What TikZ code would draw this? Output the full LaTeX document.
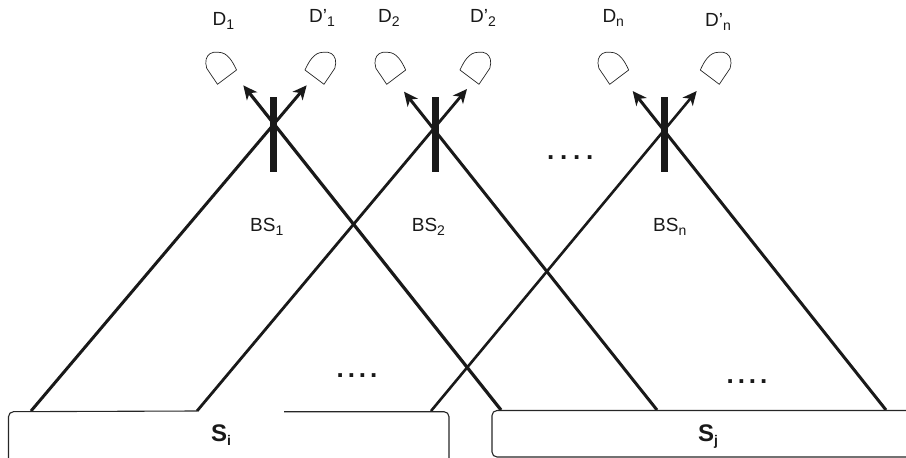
\documentclass[tikz,border=0pt]{standalone}
\usepackage{fontspec}
\setmainfont{Liberation Sans}
\usetikzlibrary{arrows.meta}

\newcommand{\lowsub}[1]{\raisebox{-4pt}{\fontsize{14}{14}\selectfont #1}}

\begin{document}
\begin{tikzpicture}[
        x = 1pt, y = -1pt,
        line join=round,
        beam/.style = {line width=#1, black!90, -{Stealth[length=14pt,width=13pt,inset=4pt]}},
        splitter/.style = {line width=7pt, black!90},
        source/.style = {line width=1.1pt, black!85, rounded corners=5pt},
        lab/.style = {anchor=base west, inner sep=0pt, font=\fontsize{19}{22}\selectfont, text=black!90},
        srclab/.style = {anchor=base west, inner sep=0pt, font=\fontsize{24}{26}\selectfont\bfseries, text=black!90},
        gap/.style = {anchor=base west, inner sep=0pt, font=\fontsize{26}{26}\selectfont\bfseries\addfontfeature{LetterSpace=#1}, text=black!90},
        pics/detector/.style = {code={
            \draw[line width=0.7pt, black!85] (0,0) -- (19,-14.3)
                .. controls (15,-23) and (10,-32) .. (1,-32) -- (-4,-32)
                .. controls (-9,-31) and (-12,-27) .. (-11.7,-21) -- (-10.8,-16) -- cycle;
        }}
    ]

    \useasboundingbox (0,0) rectangle (906,458);

    % splitters
    \coordinate (bs1a) at (273.7,97);
    \coordinate (bs1b) at (273.7,172);
    \coordinate (bs2a) at (435.7,97);
    \coordinate (bs2b) at (435.7,172);
    \coordinate (bsna) at (664.7,97);
    \coordinate (bsnb) at (664.7,172);

    % where the beams start on the sources
    \coordinate (si1) at (31,411);
    \coordinate (si2) at (197,411);
    \coordinate (si3) at (431,411);
    \coordinate (sj1) at (501,410);
    \coordinate (sj2) at (657,410);
    \coordinate (sj3) at (886,410);

    % arrow tips
    \coordinate (t1r) at (306.7,85.3);
    \coordinate (t1l) at (243.3,85.3);
    \coordinate (t2r) at (467,89);
    \coordinate (t2l) at (404,91.7);
    \coordinate (tnr) at (696.7,91);
    \coordinate (tnl) at (632.7,91);

    \draw[beam=3pt] (si1) -- (t1r);
    \draw[beam=3.2pt] (sj1) -- (t1l);
    \draw[beam=2.8pt] (si2) -- (t2r);
    \draw[beam=3pt] (sj2) -- (t2l);
    \draw[beam=2.6pt] (si3) -- (tnr);
    \draw[beam=3pt] (sj3) -- (tnl);

    \draw[splitter] (bs1a) -- (bs1b);
    \draw[splitter] (bs2a) -- (bs2b);
    \draw[splitter] (bsna) -- (bsnb);

    % sources, the first one is open on top and at the bottom
    \draw[source] (si2) -- (8.5,411.7) -- (8.5,470);
    \draw[source] (449,470) -- (449,411.7) -- (284,411.7);
    \draw[source] (930,410.5) -- (492,410.5) -- (492,457) -- (930,457);

    % detectors
    \pic at (217.5,84.3) {detector};
    \pic[xscale=-1] at (324,84.3) {detector};
    \pic at (386.7,84.3) {detector};
    \pic[xscale=-1] at (479,84.3) {detector};
    \pic at (609.7,84.3) {detector};
    \pic[xscale=-1] at (719.3,84.3) {detector};

    \node[lab] (d1) at (212.5,25.7) {D\lowsub{1}};
    \node[lab] (dp1) at (309,22.7) {D’\lowsub{1}};
    \node[lab] (d2) at (378,22.7) {D\lowsub{2}};
    \node[lab] (dp2) at (470,22.7) {D’\lowsub{2}};
    \node[lab] (dn) at (602.3,22.7) {D\lowsub{n}};
    \node[lab] (dpn) at (705,26) {D’\lowsub{n}};

    \node[lab] (bs1) at (250,231) {BS\lowsub{1}};
    \node[lab] (bs2) at (411.7,231) {BS\lowsub{2}};
    \node[lab] (bsn) at (653,231) {BS\lowsub{n}};

    \node[srclab] (si) at (211,441.7) {S\lowsub{i}};
    \node[srclab] (sj) at (698,441.7) {S\lowsub{j}};

    \node[gap=15] (dots1) at (336.5,377) {....};
    \node[gap=15] (dots2) at (726.5,383) {....};
    \node[gap=22] (dots3) at (547,159) {....};
\end{tikzpicture}
\end{document}
